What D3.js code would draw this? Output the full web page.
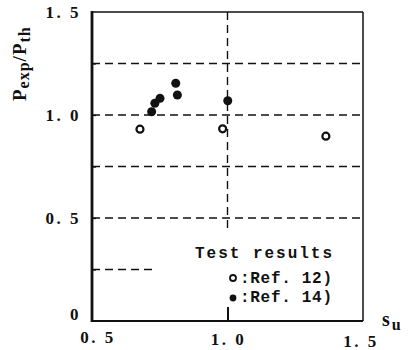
<!DOCTYPE html>
<html>
<head>
<meta charset="utf-8">
<script src="https://cdn.jsdelivr.net/npm/d3@7"></script>
<style>
  html, body { margin: 0; padding: 0; background: #fff; }
  svg { display: block; }
  text { font-family: "Liberation Serif", "DejaVu Serif", serif; font-weight: bold; fill: #111; }
  text.mono { font-family: "Liberation Mono", "DejaVu Sans Mono", monospace; }
</style>
</head>
<body>
<svg id="chart" width="413" height="350"></svg>
<script>
// ---- data ----
const openX = [0.677, 0.982, 1.363];              // Ref. 12)
const openY = [0.931, 0.933, 0.897];
const filledX = [0.809, 0.815, 0.751, 0.732, 0.720, 1.001];  // Ref. 14)
const filledY = [1.154, 1.097, 1.081, 1.057, 1.016, 1.069];
const xTickValues = [0.5, 1.0, 1.5];
const xTickLabels = ["0. 5", "1. 0", "1. 5"];
const yTickValues = [0, 0.5, 1.0, 1.5];
const yTickLabels = ["0", "0. 5", "1. 0", "1. 5"];
const yMinorTicks = [0.25, 0.5, 0.75, 1.0, 1.25];
const gridY = [0.5, 0.75, 1.0, 1.25];
const legendTitle = "Test results";
const seriesNames = ["Ref. 12)", "Ref. 14)"];

// ---- layout ----
const svg = d3.select("#chart");
const x = d3.scaleLinear().domain([0.5, 1.5]).range([92, 363]);
const y = d3.scaleLinear().domain([0, 1.5]).range([321, 12]);

// grid
const g = svg.append("g");
g.selectAll("line.gh").data(gridY).enter().append("line")
  .attr("x1", x(0.5)).attr("x2", x(1.5))
  .attr("y1", d => y(d)).attr("y2", d => y(d))
  .attr("stroke", "#111").attr("stroke-width", 1.4).attr("stroke-dasharray", "8,5");
// partial grid line at 0.25 (interrupted by legend)
g.append("line")
  .attr("x1", x(0.5)).attr("x2", x(0.722))
  .attr("y1", y(0.25)).attr("y2", y(0.25))
  .attr("stroke", "#111").attr("stroke-width", 1.4).attr("stroke-dasharray", "8,5");
// vertical dashed at 1.0
g.append("line")
  .attr("x1", x(1.0)).attr("x2", x(1.0))
  .attr("y1", y(1.5)).attr("y2", y(0.43))
  .attr("stroke", "#111").attr("stroke-width", 1.4).attr("stroke-dasharray", "8,5");

// frame
svg.append("line").attr("x1", x(0.5)).attr("x2", x(1.5)).attr("y1", y(1.5)).attr("y2", y(1.5))
  .attr("stroke", "#111").attr("stroke-width", 1.5);
svg.append("line").attr("x1", x(1.5)).attr("x2", x(1.5)).attr("y1", y(1.5)).attr("y2", y(0))
  .attr("stroke", "#111").attr("stroke-width", 1.5);

// axes via d3
const yAxis = d3.axisRight(y).tickValues(yMinorTicks).tickSize(4).tickFormat("");
const ya = svg.append("g").attr("transform", `translate(${x(0.5)},0)`).call(yAxis);
ya.select(".domain").remove();
ya.selectAll(".tick line").attr("stroke", "#111").attr("stroke-width", 1.3);

svg.append("line").attr("x1", x(0.5)).attr("x2", x(0.5)).attr("y1", y(1.5) - 1).attr("y2", y(0) + 1)
  .attr("stroke", "#111").attr("stroke-width", 2.8);
svg.append("line").attr("x1", x(0.5)).attr("x2", x(1.5)).attr("y1", y(0)).attr("y2", y(0))
  .attr("stroke", "#111").attr("stroke-width", 2.2);

// bottom tick at 1.0
const xAxis = d3.axisTop(x).tickValues([1.0]).tickSize(14).tickFormat("");
const xa = svg.append("g").attr("transform", `translate(0,${y(0)})`).call(xAxis);
xa.select(".domain").remove();
xa.selectAll(".tick line").attr("stroke", "#111").attr("stroke-width", 2);

// tick labels
svg.selectAll("text.yl").data(yTickValues).enter().append("text")
  .attr("x", 81).attr("y", (d, i) => i === 0 ? y(d) - 1 : y(d) + 6)
  .attr("text-anchor", "end").attr("font-size", 17)
  .attr("letter-spacing", 2.5)
  .text((d, i) => yTickLabels[i]);

svg.selectAll("text.xl").data(xTickValues).enter().append("text")
  .attr("x", (d, i) => x(d) + (i === 0 ? 6 : (i === 2 ? -2 : 1)))
  .attr("y", (d, i) => 343 + i * 2)
  .attr("text-anchor", "middle").attr("font-size", 17)
  .attr("letter-spacing", 2.5)
  .text((d, i) => xTickLabels[i]);

// axis titles
const xt = svg.append("text").attr("x", 382).attr("y", 326).attr("font-size", 20);
xt.append("tspan").text("s");
xt.append("tspan").attr("dy", 4).attr("font-size", 16).attr("dx", 2).text("u");

const yt = svg.append("text")
  .attr("transform", "translate(26,101) rotate(-90)")
  .attr("font-size", 19).attr("letter-spacing", 1);
yt.append("tspan").text("P");
yt.append("tspan").attr("dy", 3).attr("font-size", 16).text("exp");
yt.append("tspan").attr("dy", -3).attr("font-size", 19).text("/P");
yt.append("tspan").attr("dy", 4).attr("font-size", 16).text("th");

// data points
const openData = openX.map((v, i) => ({ x: v, y: openY[i] }));
const filledData = filledX.map((v, i) => ({ x: v, y: filledY[i] }));
svg.selectAll("circle.op").data(openData).enter().append("circle")
  .attr("cx", d => x(d.x)).attr("cy", d => y(d.y)).attr("r", 3.5)
  .attr("fill", "#fff").attr("stroke", "#111").attr("stroke-width", 2.2);
svg.selectAll("circle.fp").data(filledData).enter().append("circle")
  .attr("cx", d => x(d.x)).attr("cy", d => y(d.y)).attr("r", 4.5)
  .attr("fill", "#111");

// legend
svg.append("text").attr("class", "mono").attr("x", 195).attr("y", 258).attr("font-size", 16)
  .attr("textLength", 137).attr("lengthAdjust", "spacing").text(legendTitle);
svg.append("circle").attr("cx", 233).attr("cy", 278).attr("r", 3).attr("fill", "#fff")
  .attr("stroke", "#111").attr("stroke-width", 1.8);
svg.append("text").attr("class", "mono").attr("x", 240).attr("y", 283).attr("font-size", 16)
  .attr("textLength", 92).attr("lengthAdjust", "spacing").text(":" + seriesNames[0]);
svg.append("circle").attr("cx", 233).attr("cy", 298).attr("r", 3.4).attr("fill", "#111");
svg.append("text").attr("class", "mono").attr("x", 240).attr("y", 302).attr("font-size", 16)
  .attr("textLength", 92).attr("lengthAdjust", "spacing").text(":" + seriesNames[1]);
</script>
</body>
</html>
